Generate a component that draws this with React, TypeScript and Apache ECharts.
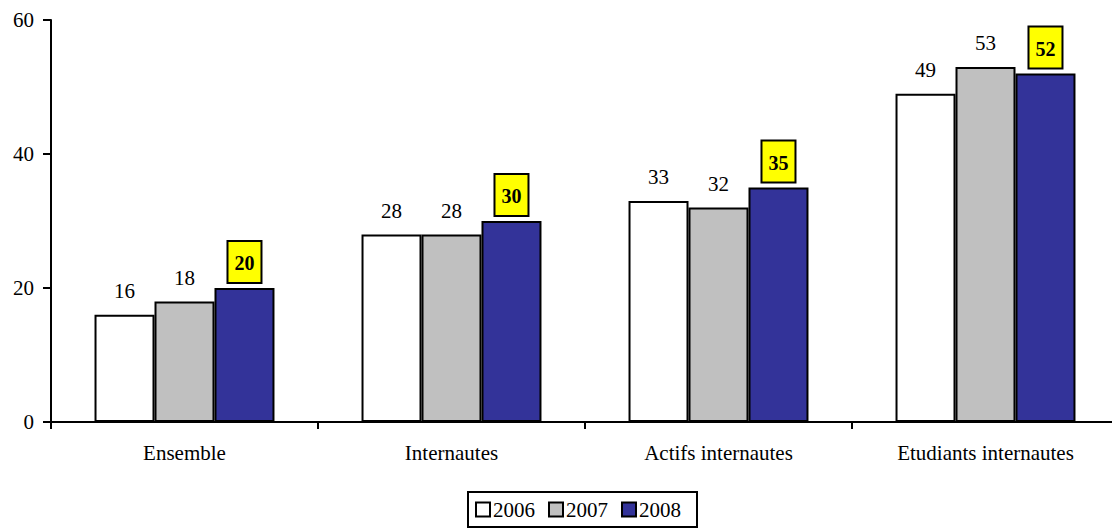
import React, { useEffect, useRef } from "react";
import * as echarts from "echarts";

const categories = ["Ensemble", "Internautes", "Actifs internautes", "Etudiants internautes"];
const years = ["2006", "2007", "2008"];
const values2006 = [16, 28, 33, 49];
const values2007 = [18, 28, 32, 53];
const values2008 = [20, 30, 35, 52];
const yTicks = { min: 0, max: 60, interval: 20 };

const FONT = "Liberation Serif";

export default function App() {
  const ref = useRef<HTMLDivElement>(null);
  useEffect(() => {
    document.body.style.margin = "0";
    const chart = echarts.init(ref.current!, null, { renderer: "svg" });
    const plainLabel = {
      show: true,
      position: "top",
      distance: 13,
      color: "#000",
      fontSize: 21,
      fontFamily: FONT,
    };
    chart.setOption({
      animation: false,
      backgroundColor: "#fff",
      textStyle: { fontFamily: FONT, color: "#000" },
      grid: {
        left: 51,
        top: 20,
        width: 1068,
        bottom: 109,
        containLabel: false,
        outerBoundsMode: "none",
      },
      legend: {
        data: years,
        left: 468,
        top: 492,
        padding: [7, 16, 7, 7],
        borderColor: "#000",
        borderWidth: 2,
        itemWidth: 14,
        itemHeight: 14,
        itemGap: 13,
        icon: "rect",
        textStyle: { fontSize: 21, fontFamily: FONT, color: "#000", padding: [0, 0, 0, -2] },
        itemStyle: { borderColor: "#000", borderWidth: 2 },
      },
      xAxis: {
        type: "category",
        data: categories,
        axisLine: { lineStyle: { color: "#000", width: 2 } },
        axisTick: { show: true, length: 7, lineStyle: { color: "#000", width: 2 } },
        axisLabel: { color: "#000", fontSize: 21, fontFamily: FONT, margin: 20 },
      },
      yAxis: {
        type: "value",
        min: yTicks.min,
        max: yTicks.max,
        interval: yTicks.interval,
        axisLine: { show: true, lineStyle: { color: "#000", width: 2 } },
        axisTick: { show: true, length: 8, lineStyle: { color: "#000", width: 2 } },
        splitLine: { show: false },
        axisLabel: { color: "#000", fontSize: 21, fontFamily: FONT, margin: 17 },
      },
      series: [
        {
          name: "2006",
          type: "bar",
          data: values2006,
          barGap: "0%",
          barCategoryGap: "32.6%",
          itemStyle: { color: "#FFFFFF", borderColor: "#000", borderWidth: 2 },
          label: plainLabel,
        },
        {
          name: "2007",
          type: "bar",
          data: values2007,
          barGap: "0%",
          barCategoryGap: "32.6%",
          itemStyle: { color: "#C0C0C0", borderColor: "#000", borderWidth: 2 },
          label: plainLabel,
        },
        {
          name: "2008",
          type: "bar",
          data: values2008,
          barGap: "0%",
          barCategoryGap: "32.6%",
          itemStyle: { color: "#333399", borderColor: "#000", borderWidth: 2 },
          label: {
            show: true,
            position: "top",
            distance: 6,
            color: "#000",
            fontSize: 20,
            fontWeight: "bold",
            fontFamily: FONT,
            backgroundColor: "#FFFF00",
            borderColor: "#000",
            borderWidth: 2,
            padding: [11, 6, 9, 6],
          },
        },
      ],
    });
    return () => chart.dispose();
  }, []);
  return <div ref={ref} style={{ width: 1112, height: 531 }} />;
}
